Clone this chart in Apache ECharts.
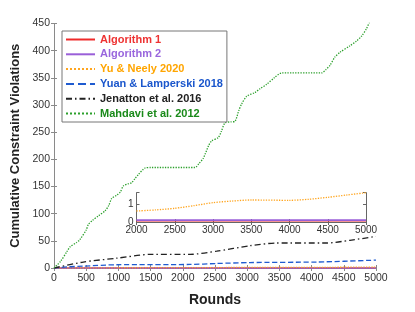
<!DOCTYPE html>
<html>
<head>
<meta charset="utf-8">
<script src="https://cdn.jsdelivr.net/npm/echarts@6/dist/echarts.min.js"></script>
<style>html,body{margin:0;padding:0;background:#fff}#c{width:415px;height:312px}</style>
</head>
<body>
<div id="c"></div>
<script>
// ---- data ----
var seriesNames = ['Algorithm 1','Algorithm 2','Yu & Neely 2020','Yuan & Lamperski 2018','Jenatton et al. 2016','Mahdavi et al. 2012'];
var xTicks = [0,500,1000,1500,2000,2500,3000,3500,4000,4500,5000];
var yTicks = [0,50,100,150,200,250,300,350,400,450];

var alg1X = [0, 2000, 5000];
var alg1Y = [0.07, 0.07, 0.07];
var alg2X = [0, 2000, 5000];
var alg2Y = [0.1, 0.1, 0.1];
var yuX = [0,250,500,1000,1500,2000,2250,2500,2750,3000,3250,3500,4000,4250,4500,4750,5000];
var yuY = [0,0.2,0.3,0.42,0.52,0.62,0.68,0.77,0.92,1.09,1.18,1.24,1.22,1.28,1.39,1.52,1.65];
var yuanX = [0,200,455,973,2112,2526,3043,4079,5000];
var yuanY = [0,2,3.5,6,6.5,8.3,10,11,14.5];
var jenX = [0,455,973,1491,2112,2526,3043,3457,4234,4596,5000];
var jenY = [0,11,18,25,25,31,41,46,46,51,58];
var mahX = [0,100,200,250,350,400,500,533,600,689,792,850,896,973,1030,1077,1150,1206,1260,1310,1413,1500,2190,2250,2318,2400,2448,2551,2600,2655,2750,2810,2870,2914,2992,3121,3200,3302,3420,3535,4157,4220,4286,4360,4441,4596,4700,4778,4850,4900,5000];
var mahY = [0,12,30,39,47,52,70,80,88,96,105,115,128,134,140,151,155,157,165,172,184,185,185,192,202,225,234,240,252,267,269,270,290,302,316,323,330,338,350,359,359,365,373,388,397,409,418,427,440,452,465];

// ---- styles ----
var colors = ['#ee2a2a','#9a5fd8','#ffa51f','#1f5bd0','#222222','#2ca02c'];
var textColors = ['#ee3333','#9966dd','#ffa500','#1a56cc','#222222','#1a8a1a'];
var lineTypes = ['solid','solid','dotted','dashed',[6,3,1.5,3],'dotted'];
var font = '"Liberation Sans", Arial, Helvetica, sans-serif';

function zip(a,b){ return a.map(function(v,i){ return [v,b[i]]; }); }
var allX = [alg1X,alg2X,yuX,yuanX,jenX,mahX];
var allY = [alg1Y,alg2Y,yuY,yuanY,jenY,mahY];
var zOrder = [6,7,8,9,10,11];

var series = [];
for (var i=0;i<6;i++){
  series.push({
    name: seriesNames[i], type:'line', xAxisIndex:0, yAxisIndex:0,
    data: zip(allX[i], allY[i]), symbol:'none', smooth:0.25, animation:false,
    lineStyle:{color:colors[i], width: (i===1?1.5:1.3), type: lineTypes[i]},
    itemStyle:{color:colors[i]}, z: zOrder[i]
  });
}
// inset series: Algorithm 1, Algorithm 2, Yu & Neely
[0,1,2].forEach(function(i){
  series.push({
    name: 'inset-'+i, type:'line', xAxisIndex:2, yAxisIndex:2,
    data: zip(allX[i], allY[i]).filter(function(p){return p[0]>=2000;}),
    symbol:'none', smooth:0.25, animation:false,
    lineStyle:{color:colors[i], width:(i===1?1.8:1.3), type: lineTypes[i]},
    z: 20 + (i===1?1:0)
  });
});

var axisCol = '#8a8a8a';
function plain(v){ return String(v); }
function boxAxis(grid, pos, min, max, interval){
  return {type:'value', gridIndex:grid, position:pos, min:min, max:max, interval:interval,
    axisLine:{show:true, lineStyle:{color:axisCol, width:1}},
    axisTick:{show:true, inside:true, length:3, lineStyle:{color:axisCol}},
    axisLabel:{show:false}, splitLine:{show:false}};
}

var option = {
  backgroundColor:'#fff',
  animation:false,
  textStyle:{fontFamily:font},
  grid:[
    {left:54, right:39, top:23.5, bottom:35, containLabel:false},
    {left:136.5, right:49, top:192.7, bottom:90, show:true, backgroundColor:'#fff', borderWidth:0, z:15}
  ],
  legend:{
    data: seriesNames.map(function(n,i){ return {name:n, textStyle:{color:textColors[i]}}; }),
    orient:'vertical', left:62, top:31, itemWidth:29, itemHeight:12, itemGap:3.8,
    padding:[3,4,3,3], backgroundColor:'#fff', borderColor:'#777', borderWidth:1,
    itemStyle:{opacity:0},
    textStyle:{fontFamily:font, fontSize:11, fontWeight:'bold'}, selectedMode:false, z:30
  },
  xAxis:[
    {type:'value', gridIndex:0, position:'bottom', min:0, max:5000, interval:500,
     name:'Rounds', nameLocation:'middle', nameGap:25,
     nameTextStyle:{fontFamily:font, fontSize:14, fontWeight:'bold', color:'#222'},
     axisLine:{show:true, onZero:false, lineStyle:{color:axisCol}},
     axisTick:{show:true, inside:true, length:3, lineStyle:{color:axisCol}},
     axisLabel:{fontFamily:font, fontSize:10.5, color:'#333', margin:5, formatter:plain},
     splitLine:{show:false}},
    boxAxis(0,'top',0,5000,500),
    {type:'value', gridIndex:1, position:'bottom', min:2000, max:5000, interval:500,
     axisLine:{show:true, onZero:false, lineStyle:{color:'#666'}},
     axisTick:{show:true, inside:true, length:3, lineStyle:{color:'#666'}},
     axisLabel:{fontFamily:font, fontSize:10, color:'#333', margin:3, formatter:plain},
     splitLine:{show:false}, z:16},
    {type:'value', gridIndex:1, position:'top', min:2000, max:5000, interval:500,
     axisLine:{show:true, lineStyle:{color:'#666'}},
     axisTick:{show:true, inside:true, length:3, lineStyle:{color:'#666'}},
     axisLabel:{show:false}, splitLine:{show:false}, z:16}
  ],
  yAxis:[
    {type:'value', gridIndex:0, position:'left', min:0, max:450, interval:50,
     name:'Cumulative Constraint Violations', nameLocation:'middle', nameGap:32, nameRotate:90,
     nameTextStyle:{fontFamily:font, fontSize:13, fontWeight:'bold', color:'#222'},
     axisLine:{show:true, onZero:false, lineStyle:{color:axisCol}},
     axisTick:{show:true, inside:true, length:3, lineStyle:{color:axisCol}},
     axisLabel:{fontFamily:font, fontSize:10.5, color:'#333', margin:4, formatter:plain},
     splitLine:{show:false}},
    boxAxis(0,'right',0,450,50),
    {type:'value', gridIndex:1, position:'left', min:0, max:1.65, interval:1,
     axisLine:{show:true, onZero:false, lineStyle:{color:'#666'}},
     axisTick:{show:true, inside:true, length:3, lineStyle:{color:'#666'}},
     axisLabel:{fontFamily:font, fontSize:10, color:'#333', margin:3,
       formatter:function(v){ return (v===0||v===1)? String(v) : ''; }},
     splitLine:{show:false}, z:16},
    {type:'value', gridIndex:1, position:'right', min:0, max:1.65, interval:1,
     axisLine:{show:true, lineStyle:{color:'#666'}},
     axisTick:{show:true, inside:true, length:3, lineStyle:{color:'#666'}},
     axisLabel:{show:false}, splitLine:{show:false}, z:16}
  ],
  series: series
};
var chart = echarts.init(document.getElementById('c'), null, {renderer:'canvas'});
chart.setOption(option);
</script>
</body>
</html>
